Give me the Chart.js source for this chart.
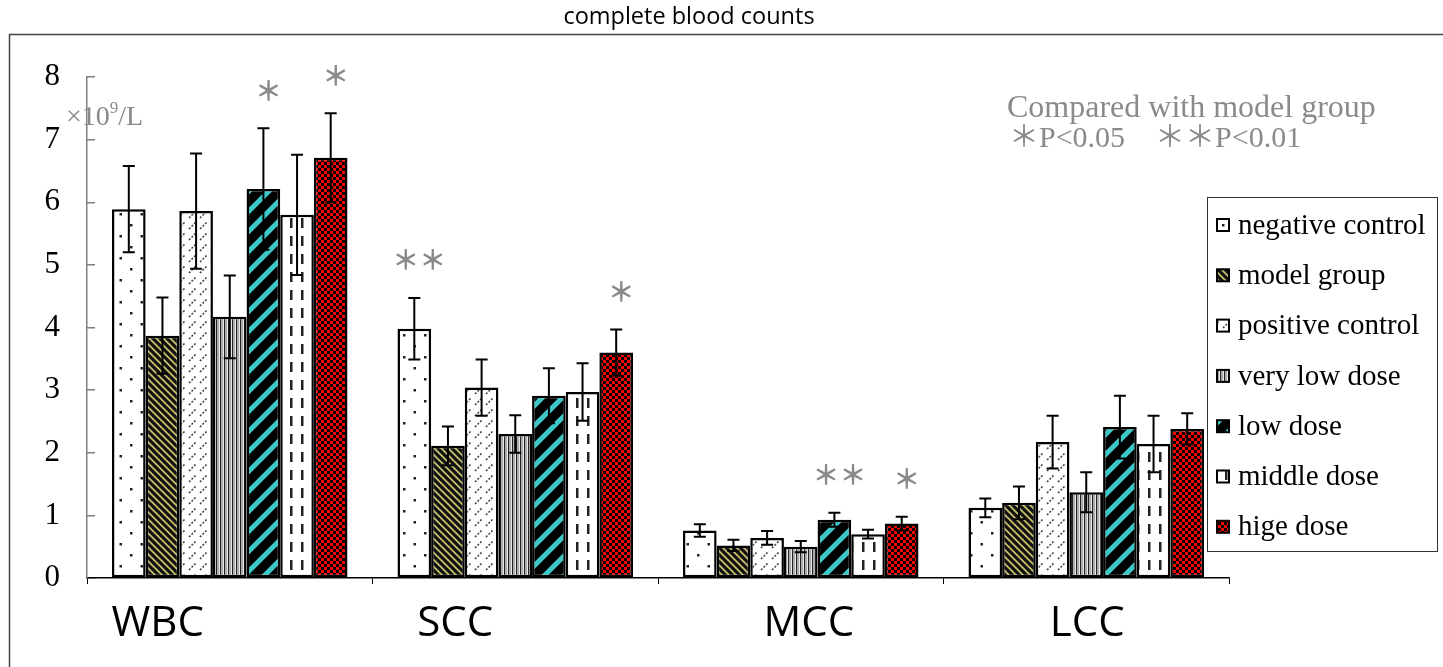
<!DOCTYPE html>
<html lang="en">
<head>
  <meta charset="UTF-8">
  <title>complete blood counts</title>
  <script src="https://cdn.jsdelivr.net/npm/chart.js"></script>
  <style>
    html, body { margin: 0; padding: 0; background: #fff; }
    #wrap { width: 1443px; height: 667px; }
  </style>
</head>
<body>
  <div id="wrap"><canvas id="chart" width="1443" height="667"></canvas></div>

  <script>
    // categories and groups
    const categories = ['WBC', 'SCC', 'MCC', 'LCC'];
    const groups = ['negative control', 'model group', 'positive control', 'very low dose', 'low dose', 'middle dose', 'hige dose'];

    // means (x10^9/L)
    const negativeControl = [5.89, 3.98, 0.76, 1.12];
    const modelGroup      = [3.87, 2.11, 0.52, 1.20];
    const positiveControl = [5.86, 3.04, 0.64, 2.17];
    const veryLowDose     = [4.17, 2.30, 0.50, 1.37];
    const lowDose         = [6.21, 2.91, 0.93, 2.41];
    const middleDose      = [5.80, 2.97, 0.70, 2.14];
    const higeDose        = [6.71, 3.60, 0.87, 2.38];

    // error bars (+/-)
    const negativeControlErr = [0.69, 0.49, 0.10, 0.15];
    const modelGroupErr      = [0.61, 0.31, 0.09, 0.26];
    const positiveControlErr = [0.92, 0.45, 0.11, 0.42];
    const veryLowDoseErr     = [0.66, 0.30, 0.09, 0.32];
    const lowDoseErr         = [0.97, 0.44, 0.11, 0.50];
    const middleDoseErr      = [0.96, 0.46, 0.07, 0.45];
    const higeDoseErr        = [0.71, 0.37, 0.11, 0.25];

    // significance marks vs model group
    const negativeControlSig = ['', '＊＊', '', ''];
    const lowDoseSig         = ['＊', '', '＊＊', ''];
    const higeDoseSig        = ['＊', '＊', '＊', ''];

    const yTicks = [0, 1, 2, 3, 4, 5, 6, 7, 8];

    const ctx = document.getElementById('chart').getContext('2d');

    function makePattern(w, h, draw) {
      const c = document.createElement('canvas');
      c.width = w; c.height = h;
      const g = c.getContext('2d');
      draw(g, w, h);
      return ctx.createPattern(c, 'repeat');
    }

    function stripes(g, s, dir) {
      g.beginPath();
      if (dir === '/') {
        g.moveTo(0, s); g.lineTo(s, 0);
        g.moveTo(-s / 2, s / 2); g.lineTo(s / 2, -s / 2);
        g.moveTo(s / 2, 1.5 * s); g.lineTo(1.5 * s, s / 2);
      } else {
        g.moveTo(0, 0); g.lineTo(s, s);
        g.moveTo(-s / 2, s / 2); g.lineTo(s / 2, 1.5 * s);
        g.moveTo(s / 2, -s / 2); g.lineTo(1.5 * s, s / 2);
      }
      g.stroke();
    }

    const fills = [
      // dots
      makePattern(21, 22, (g, w, h) => {
        g.fillStyle = '#fff'; g.fillRect(0, 0, w, h);
        g.fillStyle = '#222';
        g.fillRect(4, 4, 2.5, 2.5);
        g.fillRect(14.5, 15, 2.5, 2.5);
      }),
      // khaki back-diagonal
      makePattern(7, 7, (g, w, h) => {
        g.fillStyle = '#111'; g.fillRect(0, 0, w, h);
        g.strokeStyle = '#c8bf6c'; g.lineWidth = 1.8;
        stripes(g, 7, '\\');
      }),
      // dashed forward diagonal
      makePattern(11, 11, (g, w, h) => {
        g.fillStyle = '#fff'; g.fillRect(0, 0, w, h);
        g.strokeStyle = '#444'; g.lineWidth = 1.6;
        g.setLineDash([2, 1.6]);
        g.beginPath(); g.moveTo(2, 9); g.lineTo(8.5, 2.5); g.stroke();
      }),
      // vertical lines
      makePattern(4, 4, (g, w, h) => {
        g.fillStyle = '#e8e8e8'; g.fillRect(0, 0, w, h);
        g.fillStyle = '#222'; g.fillRect(0, 0, 1.3, h);
        g.fillStyle = '#aaa'; g.fillRect(2, 0, 1, h);
      }),
      // wide cyan diagonal
      makePattern(20, 20, (g, w, h) => {
        g.fillStyle = '#000'; g.fillRect(0, 0, w, h);
        g.strokeStyle = '#3cc8c8'; g.lineWidth = 5;
        stripes(g, 20, '/');
      }),
      // vertical dashes
      makePattern(11, 18, (g, w, h) => {
        g.fillStyle = '#fff'; g.fillRect(0, 0, w, h);
        g.fillStyle = '#222'; g.fillRect(4, 2, 2.5, 10);
      }),
      // red checks
      makePattern(6, 6, (g, w, h) => {
        g.fillStyle = '#ff0000'; g.fillRect(0, 0, w, h);
        g.fillStyle = '#000';
        g.fillRect(0, 0, 3, 3);
        g.fillRect(3, 3, 3, 3);
      })
    ];

    const values = [negativeControl, modelGroup, positiveControl, veryLowDose, lowDose, middleDose, higeDose];
    const errors = [negativeControlErr, modelGroupErr, positiveControlErr, veryLowDoseErr, lowDoseErr, middleDoseErr, higeDoseErr];
    const sigs = [negativeControlSig, null, null, null, lowDoseSig, null, higeDoseSig];

    const serif = '"Liberation Serif", "Times New Roman", serif';
    const cjk = '"Noto Sans CJK JP", "Noto Sans CJK SC", sans-serif';

    // frame, title, error bars, stars, custom legend and notes
    const extras = {
      id: 'extras',
      beforeDraw(chart) {
        const c = chart.ctx;
        c.save();
        c.fillStyle = '#fff';
        c.fillRect(0, 0, chart.width, chart.height);
        c.strokeStyle = '#444';
        c.lineWidth = 1.5;
        c.beginPath();
        c.moveTo(9.5, chart.height);
        c.lineTo(9.5, 34.5);
        c.lineTo(chart.width, 34.5);
        c.stroke();
        c.fillStyle = '#000';
        c.font = '23.5px "Open Sans", "Noto Sans", sans-serif';
        c.textAlign = 'center';
        c.textBaseline = 'middle';
        c.fillText('complete blood counts', 689, 17);
        c.restore();
      },
      afterDatasetsDraw(chart) {
        const c = chart.ctx;
        const y = chart.scales.y;
        c.save();
        c.strokeStyle = '#000';
        c.lineWidth = 2;
        chart.data.datasets.forEach((ds, di) => {
          const meta = chart.getDatasetMeta(di);
          meta.data.forEach((bar, i) => {
            const v = ds.data[i], e = errors[di][i];
            const top = y.getPixelForValue(v + e);
            const bot = y.getPixelForValue(v - e);
            c.beginPath();
            c.moveTo(bar.x, top); c.lineTo(bar.x, bot);
            c.moveTo(bar.x - 6, top); c.lineTo(bar.x + 6, top);
            c.moveTo(bar.x - 6, bot); c.lineTo(bar.x + 6, bot);
            c.stroke();
            const s = sigs[di] && sigs[di][i];
            if (s) {
              c.fillStyle = '#8a8a8a';
              c.font = 'bold 27px ' + cjk;
              c.textAlign = 'center';
              c.textBaseline = 'middle';
              c.fillText(s, bar.x + 5, top - 38);
            }
          });
        });
        c.restore();
      },
      afterDraw(chart) {
        const c = chart.ctx;
        const x = chart.scales.x;
        c.save();
        // category labels
        const dx = [-72, -60, 8, 1];
        c.fillStyle = '#000';
        c.font = '42px "Open Sans", "Noto Sans", sans-serif';
        c.textAlign = 'center';
        c.textBaseline = 'middle';
        categories.forEach((lab, i) => {
          c.fillText(lab, x.getPixelForValue(i) + dx[i], 624);
        });

        // unit
        c.fillStyle = '#8a8a8a';
        c.textAlign = 'left';
        c.textBaseline = 'alphabetic';
        c.font = '28px ' + serif;
        c.fillText('×10', 66, 125);
        let w = c.measureText('×10').width;
        c.font = '17px ' + serif;
        c.fillText('9', 66 + w, 113);
        let w2 = c.measureText('9').width;
        c.font = '28px ' + serif;
        c.fillText('/L', 66 + w + w2, 125);

        // significance note
        c.font = '32px ' + serif;
        c.fillText('Compared with model group', 1007, 117);
        c.font = '30px ' + serif + ', ' + cjk;
        c.fillText('＊P<0.05　＊＊P<0.01', 1009, 147);

        // legend
        const lx = 1207.5, ly = 197.5, lw = 230, lh = 354;
        c.fillStyle = '#fff';
        c.fillRect(lx, ly, lw, lh);
        c.strokeStyle = '#333';
        c.lineWidth = 1;
        c.strokeRect(lx, ly, lw, lh);
        c.font = '29px ' + serif;
        c.textBaseline = 'middle';
        chart.data.datasets.forEach((ds, i) => {
          const cy = 225 + i * 50.3;
          c.fillStyle = ds.backgroundColor;
          c.fillRect(1217, cy - 6, 12, 12);
          c.strokeStyle = '#000';
          c.lineWidth = 2;
          c.strokeRect(1217, cy - 6, 12, 12);
          c.fillStyle = '#000';
          c.fillText(ds.label, 1238, cy + 1);
        });
        c.restore();
      }
    };

    new Chart(ctx, {
      type: 'bar',
      data: {
        labels: categories,
        datasets: groups.map((g, i) => ({
          label: g,
          data: values[i],
          backgroundColor: fills[i],
          borderColor: '#000',
          borderWidth: 2.5,
          borderSkipped: false,
          barPercentage: 1,
          categoryPercentage: 0.825
        }))
      },
      options: {
        responsive: false,
        animation: false,
        layout: { padding: { left: 0, right: 214, top: 77, bottom: 0 } },
        plugins: {
          legend: { display: false },
          tooltip: { enabled: false },
          title: { display: false }
        },
        scales: {
          x: {
            afterFit: s => { s.height = 89; },
            ticks: { display: false },
            grid: { offset: true, drawOnChartArea: false, drawTicks: true, tickLength: 6, color: '#000', lineWidth: 1 },
            border: { color: '#000', width: 1.5 }
          },
          y: {
            min: 0,
            max: 8,
            afterFit: s => { s.width = 87; },
            afterBuildTicks: s => { s.ticks = yTicks.map(v => ({ value: v })); },
            ticks: { padding: 35, color: '#000', font: { family: serif, size: 31 } },
            grid: { drawOnChartArea: false, drawTicks: true, tickLength: -8, color: '#808080', lineWidth: 1.5 },
            border: { color: '#808080', width: 1.5 }
          }
        }
      },
      plugins: [extras]
    });
  </script>
</body>
</html>
